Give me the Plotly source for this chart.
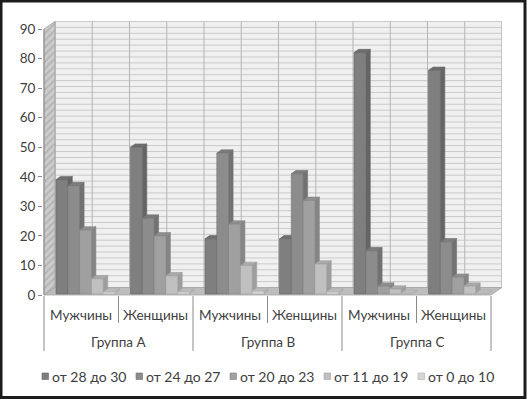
import plotly.graph_objects as go

# ---------------- data ----------------
categories = ["Мужчины", "Женщины", "Мужчины", "Женщины", "Мужчины", "Женщины"]
groups = ["Группа A", "Группа B", "Группа C"]
series_names = ["от 28 до 30", "от 24 до 27", "от 20 до 23", "от 11 до 19", "от 0 до 10"]
s_28_30 = [39, 50, 19, 19, 82, 76]
s_24_27 = [37, 26, 48, 41, 15, 18]
s_20_23 = [22, 20, 24, 32, 3, 6]
s_11_19 = [5.5, 6.5, 10, 10.5, 2, 3]
s_0_10 = [1, 1, 1.3, 1, 0.5, 0.5]
y_ticks = [0, 10, 20, 30, 40, 50, 60, 70, 80, 90]

series_values = [s_28_30, s_24_27, s_20_23, s_11_19, s_0_10]

# ---------------- styles ----------------
front_colors = ["#7f7f7f", "#8c8c8c", "#a0a0a0", "#c0c0c0", "#d6d6d6"]
side_colors = ["#656565", "#727272", "#858585", "#9e9e9e", "#b0b0b0"]
top_colors = ["#6e6e6e", "#7b7b7b", "#8f8f8f", "#aaaaaa", "#bcbcbc"]
text_color = "#404040"
FONT = "Lato"
FS = 13.5

W, H = 527, 399
L, R, T, B = 43, 502, 21, 296          # plot area in pixels
PW, PH = R - L, B - T
X_PX = 74.5                            # px per category
Y_PX = 266 / 90                        # px per unit
x_min = -1 / X_PX
x_max = 6 + (R - 44 - 6 * X_PX) / X_PX
y_min = -(B - 295) / Y_PX
y_max = 90 + (295 - 266 - T) / Y_PX

dxw = 11 / X_PX      # wall depth offset (x, data units)
dyw = 7.5 / Y_PX     # wall depth offset (y, data units)
bar_off = 12 / X_PX
bw = 11.8 / X_PX
dx = 4.5 / X_PX
dy = 3.3 / Y_PX
base = 0.35
ymax_axis = y_ticks[-1]
ncat = len(categories)


def px_x(px):
    return (px - L) / PW


def px_y(py):
    return (B - py) / PH


fig = go.Figure()

# back wall with grid
fig.add_trace(go.Scatter(
    x=[dxw, ncat + dxw, ncat + dxw, dxw, dxw],
    y=[dyw, dyw, ymax_axis + dyw, ymax_axis + dyw, dyw],
    fill="toself", fillcolor="#f0f0f0", mode="lines",
    line=dict(color="#c0c0c0", width=1), hoverinfo="skip", showlegend=False))

gx, gy = [], []
for v in range(0, ymax_axis + 1, 2):
    gx += [dxw, ncat + dxw, None]
    gy += [v + dyw, v + dyw, None]
fig.add_trace(go.Scatter(x=gx, y=gy, mode="lines",
                         line=dict(color="#cacaca", width=1),
                         hoverinfo="skip", showlegend=False))
vx, vy = [], []
for j in range(0, 2 * ncat + 1):
    vx += [dxw + 0.5 * j, dxw + 0.5 * j, None]
    vy += [dyw, ymax_axis + dyw, None]
fig.add_trace(go.Scatter(x=vx, y=vy, mode="lines",
                         line=dict(color="#b4b4b4", width=1),
                         hoverinfo="skip", showlegend=False))

# left wall
fig.add_trace(go.Scatter(
    x=[0, dxw, dxw, 0, 0], y=[0, dyw, ymax_axis + dyw, ymax_axis, 0],
    fill="toself", fillcolor="#c4c4c4", mode="lines",
    fillpattern=dict(shape="/", bgcolor="#cccccc", fgcolor="#9a9a9a", size=5, solidity=0.35),
    line=dict(color="#a0a0a0", width=0.8), hoverinfo="skip", showlegend=False))

# floor
fig.add_trace(go.Scatter(
    x=[0, ncat, ncat + dxw, dxw, 0], y=[0, 0, dyw, dyw, 0],
    fill="toself", fillcolor="#bdbdbd", mode="lines",
    line=dict(color="#a5a5a5", width=0.8), hoverinfo="skip", showlegend=False))

# bars (3D columns drawn as faces)
for k, vals in enumerate(series_values):
    fx, fy, sx, sy, tx, ty = [], [], [], [], [], []
    for i, v in enumerate(vals):
        x0 = i + bar_off + k * bw
        x1 = x0 + bw
        fx += [x0, x1, x1, x0, x0, None]
        fy += [base, base, v, v, base, None]
        sx += [x1, x1 + dx, x1 + dx, x1, x1, None]
        sy += [base, base + dy, v + dy, v, base, None]
        tx += [x0, x1, x1 + dx, x0 + dx, x0, None]
        ty += [v, v, v + dy, v + dy, v, None]
    fig.add_trace(go.Scatter(x=tx, y=ty, fill="toself", mode="lines",
                             fillcolor=top_colors[k], line=dict(color=side_colors[k], width=0.6),
                             hoverinfo="skip", showlegend=False))
    fig.add_trace(go.Scatter(x=sx, y=sy, fill="toself", mode="lines",
                             fillcolor=side_colors[k], line=dict(color=side_colors[k], width=0.6),
                             hoverinfo="skip", showlegend=False))
    fig.add_trace(go.Scatter(x=fx, y=fy, fill="toself", mode="lines",
                             fillcolor=front_colors[k], line=dict(color=side_colors[k], width=0.6),
                             name=series_names[k], showlegend=False))

# front-left axis edge
fig.add_trace(go.Scatter(x=[0, 0], y=[0, ymax_axis], mode="lines",
                         line=dict(color="#8a8a8a", width=1), hoverinfo="skip", showlegend=False))

shapes = []
annotations = []

# category axis dividers and labels
lvl1 = px_y(323)
lvl2 = px_y(351)
for i in range(ncat + 1):
    bottom = lvl2 if i % 2 == 0 else lvl1
    shapes.append(dict(type="line", xref="x", yref="paper", x0=i, x1=i,
                       y0=0, y1=bottom, line=dict(color="#8a8a8a", width=1)))
for i, c in enumerate(categories):
    annotations.append(dict(text=c, xref="x", yref="paper", x=i + 0.5, y=px_y(315),
                            xanchor="center", yanchor="middle", showarrow=False,
                            font=dict(family=FONT, size=FS, color=text_color)))
for g, name in enumerate(groups):
    annotations.append(dict(text=name, xref="x", yref="paper", x=2 * g + 1, y=px_y(342),
                            xanchor="center", yanchor="middle", showarrow=False,
                            font=dict(family=FONT, size=FS, color=text_color)))

# legend (manual, to match compact spacing)
sw_left = [42, 136, 230, 324, 418]
for k, name in enumerate(series_names):
    x0 = sw_left[k]
    shapes.append(dict(type="rect", xref="paper", yref="paper",
                       x0=px_x(x0), x1=px_x(x0 + 6.5), y0=px_y(379.5), y1=px_y(373),
                       fillcolor=front_colors[k], line=dict(color=side_colors[k], width=0.6)))
    annotations.append(dict(text=name, xref="paper", yref="paper", x=px_x(x0 + 7.5),
                            y=px_y(376.5), xanchor="left", yanchor="middle", showarrow=False,
                            font=dict(family=FONT, size=14, color=text_color)))

# outer frame
shapes.append(dict(type="rect", xref="paper", yref="paper",
                   x0=px_x(1), x1=px_x(525), y0=px_y(397.5), y1=px_y(1),
                   line=dict(color="#1c1c1c", width=3), fillcolor="rgba(0,0,0,0)", layer="above"))

fig.update_layout(
    width=W, height=H,
    margin=dict(l=L, r=W - R, t=T, b=H - B, pad=0),
    paper_bgcolor="white", plot_bgcolor="white",
    showlegend=False,
    xaxis=dict(range=[x_min, x_max], visible=False, fixedrange=True),
    yaxis=dict(range=[y_min, y_max], tickvals=y_ticks, ticktext=[str(v) for v in y_ticks],
               showgrid=False, zeroline=False, showline=False,
               ticks="outside", ticklen=4, tickcolor="#8a8a8a",
               tickfont=dict(family=FONT, size=FS, color=text_color), fixedrange=True),
    shapes=shapes, annotations=annotations,
)

fig.write_html("out.html", config={"displayModeBar": False},
               post_script="document.body.style.margin='0';")
